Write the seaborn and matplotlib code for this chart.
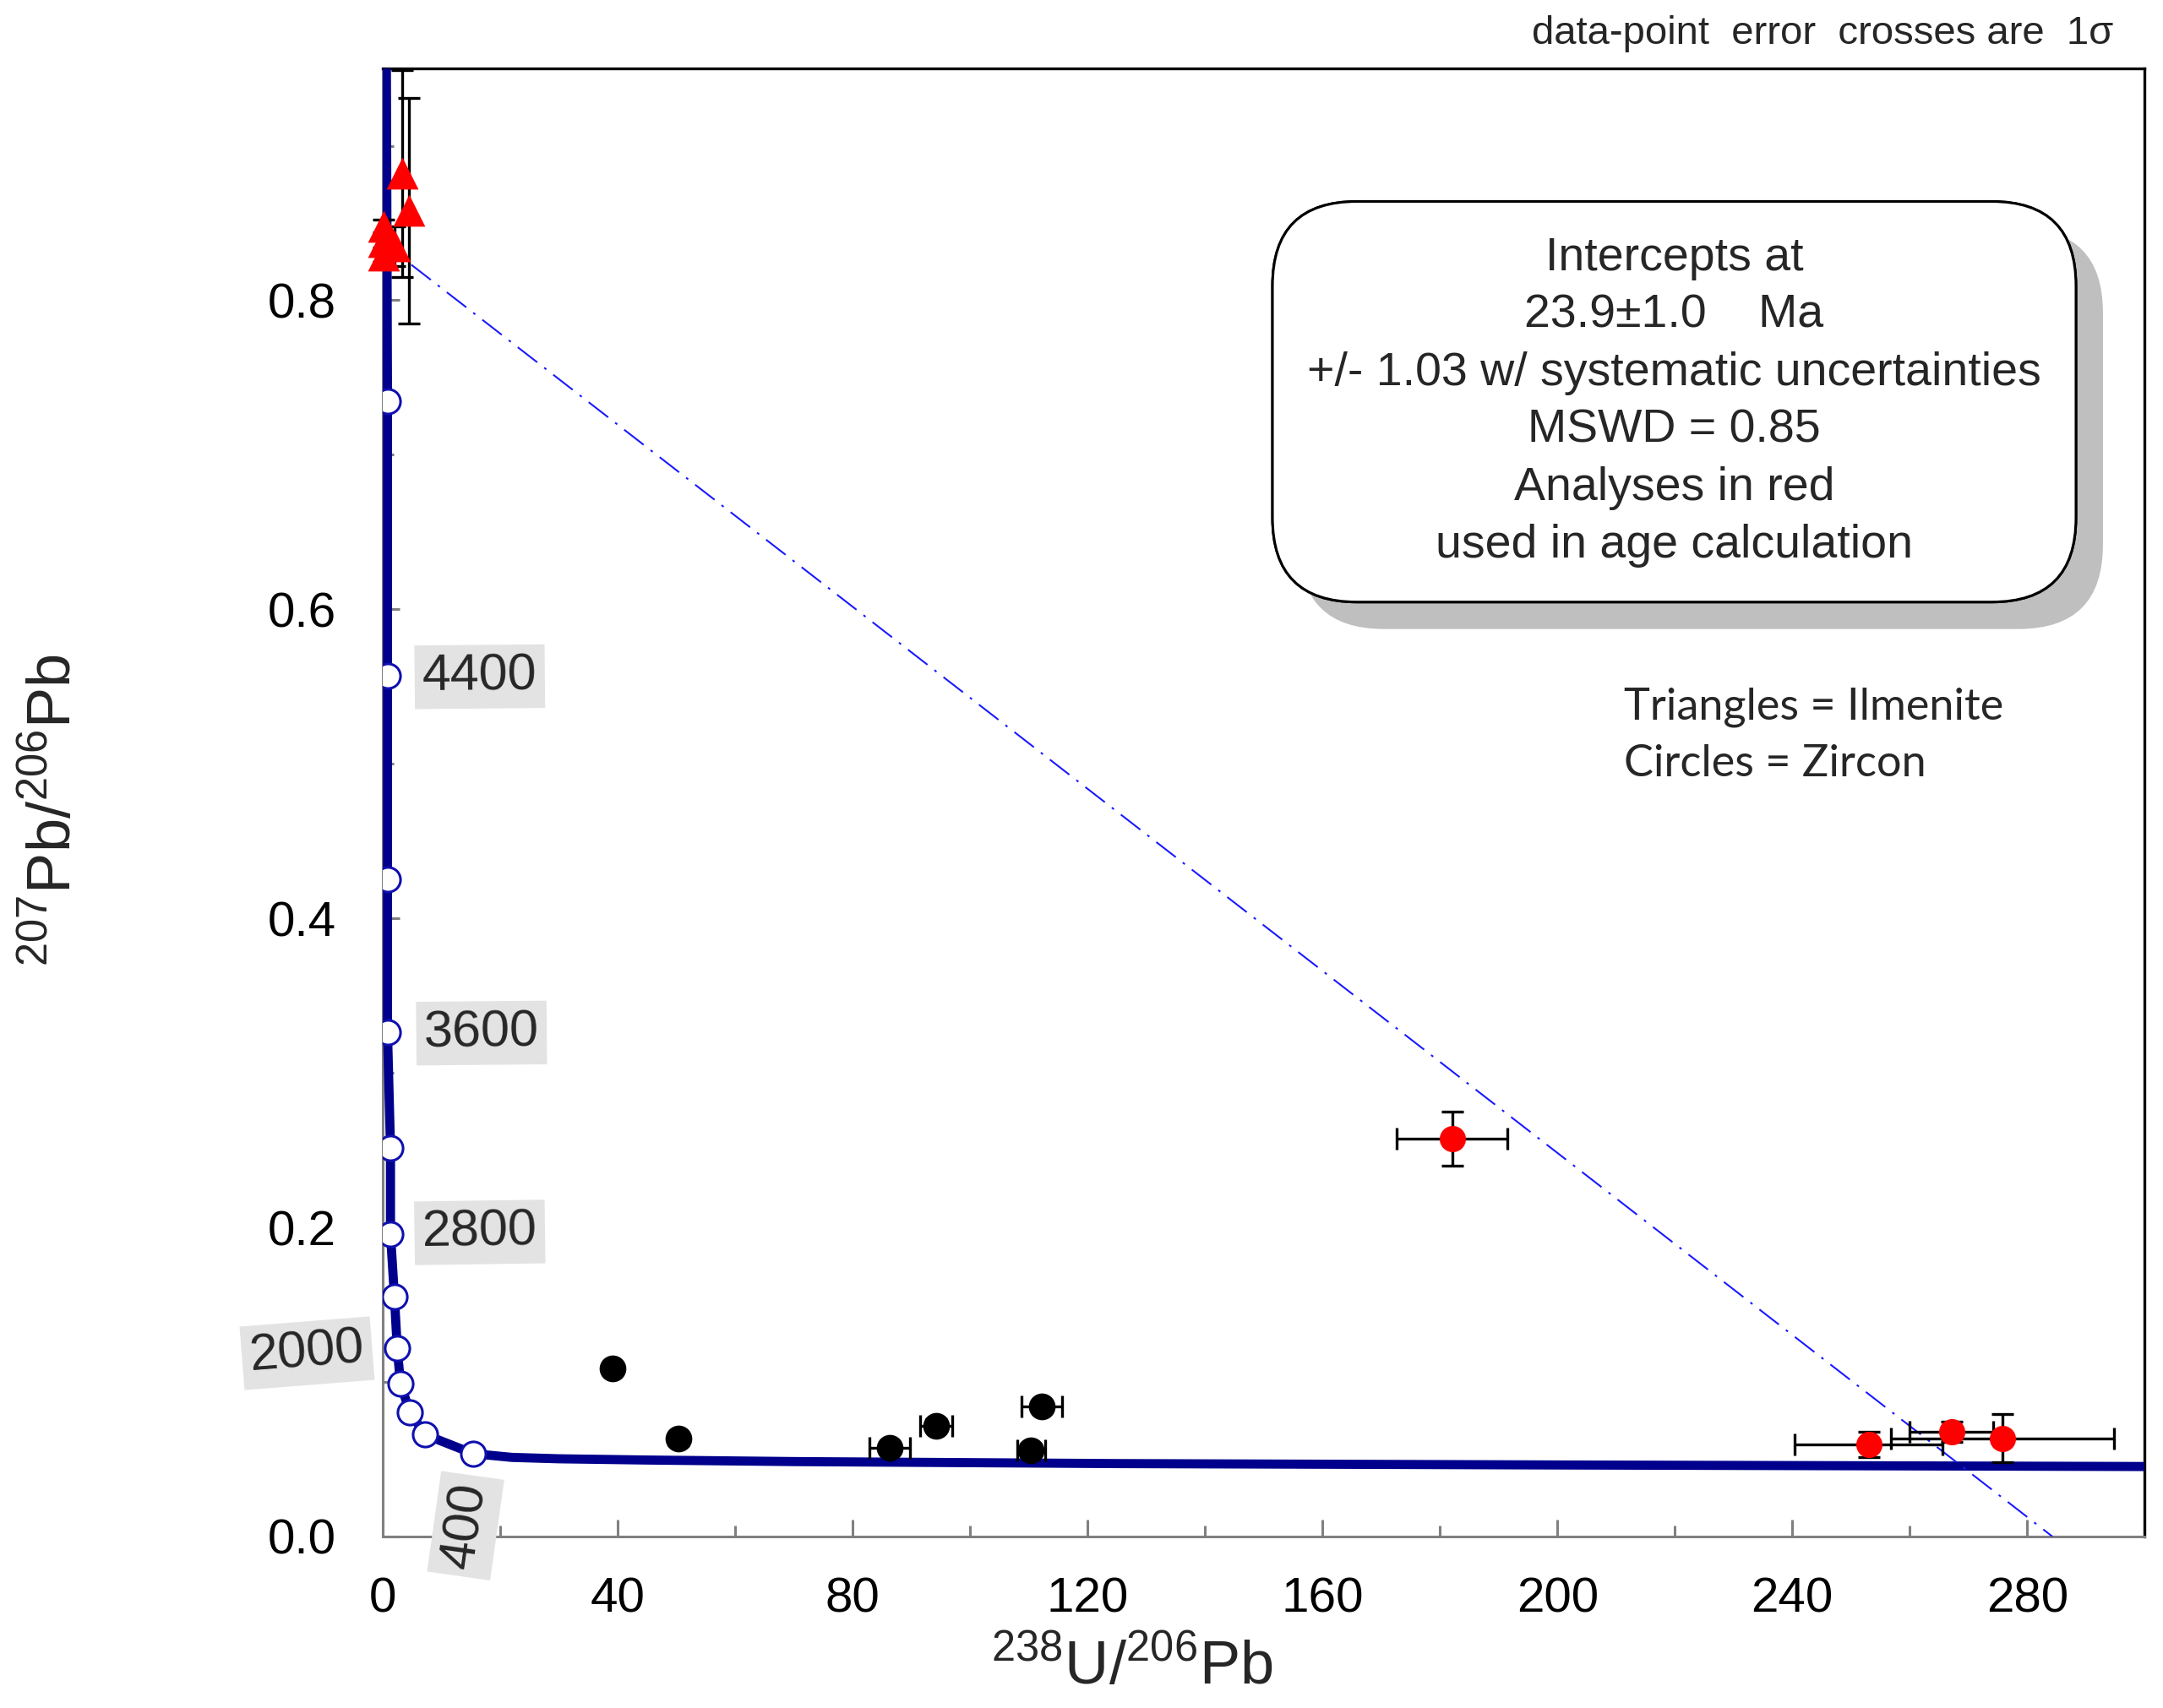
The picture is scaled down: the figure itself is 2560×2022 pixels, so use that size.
import matplotlib
matplotlib.use("Agg")
import matplotlib.pyplot as plt
import matplotlib.patheffects as pe
from matplotlib.ticker import MultipleLocator
import seaborn as sns
import pandas as pd

# concordia curve (238U/206Pb, 207Pb/206Pb)
curve_x = [0.60, 0.79, 0.79, 0.79, 0.79, 1.30, 1.30, 1.97, 2.45, 3.00, 4.60, 7.20,
           15.4, 22.0, 30.0, 45.0, 70.0, 125.0, 200.0, 250.0, 300.0]
curve_y = [0.950, 0.7344, 0.5571, 0.4252, 0.3264, 0.2517, 0.1959, 0.1552, 0.1220,
           0.0989, 0.0806, 0.0659, 0.0536, 0.0512, 0.0503, 0.0495, 0.0485, 0.0472,
           0.0463, 0.0458, 0.0453]

# age ticks on the concordia (Ma)
age_ma = [400, 800, 1200, 1600, 2000, 2400, 2800, 3200, 3600, 4000, 4400, 4800]
age_x = [15.4, 7.2, 4.6, 3.0, 2.45, 1.97, 1.3, 1.3, 0.79, 0.79, 0.79, 0.79]
age_y = [0.0536, 0.0659, 0.0806, 0.0989, 0.122, 0.1552, 0.1959, 0.2517,
         0.3264, 0.4252, 0.5571, 0.7344]

# labelled ages: text, position, rotation
lab_text = ["4400", "3600", "2800", "2000", "400"]
lab_x = [16.5, 16.8, 16.5, -12.9, 14.1]
lab_y = [0.5564, 0.3258, 0.1968, 0.1186, 0.0070]
lab_rot = [0.5, 0.5, 0.8, 4.5, 82]

# discordia end points
disc_x = [4.85, 284.3]
disc_y = [0.823, 0.0]

# zircon used in age (red)
zr_red_x = [182.1, 253.0, 267.1, 275.8]
zr_red_y = [0.2573, 0.0596, 0.0678, 0.0636]
zr_red_xerr = [9.45, 12.6, 7.1, 19.0]
zr_red_yerr = [0.0176, 0.0082, 0.0067, 0.0155]

# zircon not used (black)
zr_blk_x = [39.1, 50.4, 86.3, 94.2, 112.2, 110.4]
zr_blk_y = [0.1088, 0.0632, 0.0574, 0.0718, 0.0842, 0.0559]
zr_blk_xerr = [0.8, 0.8, 3.5, 2.7, 3.5, 2.4]
zr_blk_yerr = [0.004, 0.004, 0.004, 0.004, 0.004, 0.004]

# ilmenite (red triangles)
il_x = [0.1, 0.1, 0.1, 2.0, 3.3, 4.4]
il_y = [0.848, 0.838, 0.829, 0.835, 0.882, 0.858]
il_yerr = [0.004, 0.004, 0.004, 0.0126, 0.067, 0.073]

box_lines = ["Intercepts at",
             "23.9\u00b11.0    Ma",
             "+/- 1.03 w/ systematic uncertainties",
             "MSWD = 0.85",
             "Analyses in red",
             "used in age calculation"]

sns.set_theme(style="white")
plt.rcParams["font.family"] = ["Liberation Sans", "DejaVu Sans"]
plt.rcParams["mathtext.fontset"] = "custom"
plt.rcParams["mathtext.rm"] = "Liberation Sans"
plt.rcParams["mathtext.it"] = "Liberation Sans"
plt.rcParams["mathtext.bf"] = "Liberation Sans"

fig = plt.figure(figsize=(12.8, 10.11), dpi=200)
ax = fig.add_axes([0.177, 0.1004, 0.8145, 0.8595])

navy = "#00008c"

# concordia
curve = pd.DataFrame({"x": curve_x, "y": curve_y})
sns.lineplot(data=curve, x="x", y="y", sort=False, estimator=None,
             color=navy, lw=3.9, ax=ax, zorder=3)
sns.scatterplot(x=age_x, y=age_y, marker="o", s=110, color="white",
                edgecolor="#1010b0", linewidth=1.1, zorder=4, ax=ax)

# discordia
sns.lineplot(x=disc_x, y=disc_y, color="#1a1aff", lw=0.75,
             linestyle=(0, (14, 5, 1.5, 5)), ax=ax, zorder=3)

# error crosses
ebkw = dict(fmt="none", ecolor="black", elinewidth=1.2, capsize=4.8,
            capthick=1.2, zorder=4, clip_on=False)
ax.errorbar(zr_red_x, zr_red_y, xerr=zr_red_xerr, yerr=zr_red_yerr, **ebkw)
ax.errorbar(zr_blk_x, zr_blk_y, xerr=zr_blk_xerr, yerr=zr_blk_yerr, **ebkw)
ax.errorbar(il_x, il_y, yerr=il_yerr, **ebkw)

sns.scatterplot(x=zr_blk_x, y=zr_blk_y, marker="o", s=130, color="black",
                linewidth=0, zorder=5, ax=ax)
sns.scatterplot(x=zr_red_x, y=zr_red_y, marker="o", s=125, color="red",
                linewidth=0, zorder=5, ax=ax)
sns.scatterplot(x=il_x, y=il_y, marker="^", s=185, color="red",
                linewidth=0, zorder=5, ax=ax, clip_on=False)

for txt, x, y, r in zip(lab_text, lab_x, lab_y, lab_rot):
    ax.text(x, y, txt, fontsize=22, ha="center", va="center", rotation=r,
            rotation_mode="anchor", zorder=6, clip_on=False,
            bbox=dict(boxstyle="square,pad=0.15", fc="#e3e3e3", ec="none"))

ax.set_xlim(0, 300)
ax.set_ylim(0, 0.95)
ax.xaxis.set_major_locator(MultipleLocator(40))
ax.xaxis.set_minor_locator(MultipleLocator(20))
ax.yaxis.set_major_locator(MultipleLocator(0.2))
ax.yaxis.set_minor_locator(MultipleLocator(0.1))
ax.tick_params(axis="both", which="both", direction="in", color="#808080",
               width=1.1, labelsize=21, labelcolor="black",
               top=False, right=False, bottom=True, left=True)
ax.tick_params(which="major", length=7.2)
ax.tick_params(which="minor", length=4.6)
ax.tick_params(axis="x", pad=17)
ax.tick_params(axis="y", pad=20)

for s in ["left", "bottom"]:
    ax.spines[s].set_color("#808080")
    ax.spines[s].set_linewidth(1.1)
for s in ["top", "right"]:
    ax.spines[s].set_color("black")
    ax.spines[s].set_linewidth(1.2)

ax.set_xlabel(r"$^{238}$U/$^{206}$Pb", fontsize=26)
ax.set_ylabel(r"$^{207}$Pb/$^{206}$Pb", fontsize=26)
ax.xaxis.set_label_coords(0.425, -0.069)
ax.yaxis.set_label_coords(-0.170, 0.495)

t = ax.text(0.733, 0.773, "\n".join(box_lines), transform=ax.transAxes,
            ha="center", va="center", multialignment="center", fontsize=20,
            linespacing=1.4, zorder=7,
            bbox=dict(boxstyle="round,pad=0.74,rounding_size=1.8", fc="white",
                      ec="black", lw=1.1))
t.get_bbox_patch().set_path_effects([
    pe.withSimplePatchShadow(offset=(11.5, -11.5), shadow_rgbFace="#bfbfbf", alpha=1.0),
    pe.Normal()])

ax.text(0.7045, 0.565, "Triangles = Ilmenite", transform=ax.transAxes,
        fontsize=18.8, va="center", family=["Lato", "DejaVu Sans"])
ax.text(0.7045, 0.526, "Circles = Zircon", transform=ax.transAxes,
        fontsize=18.8, va="center", family=["Lato", "DejaVu Sans"])

fig.text(0.977, 0.980, "data-point  error  crosses are  1\u03c3", ha="right",
         va="center", fontsize=17)

fig.savefig("out.png", dpi=200)
